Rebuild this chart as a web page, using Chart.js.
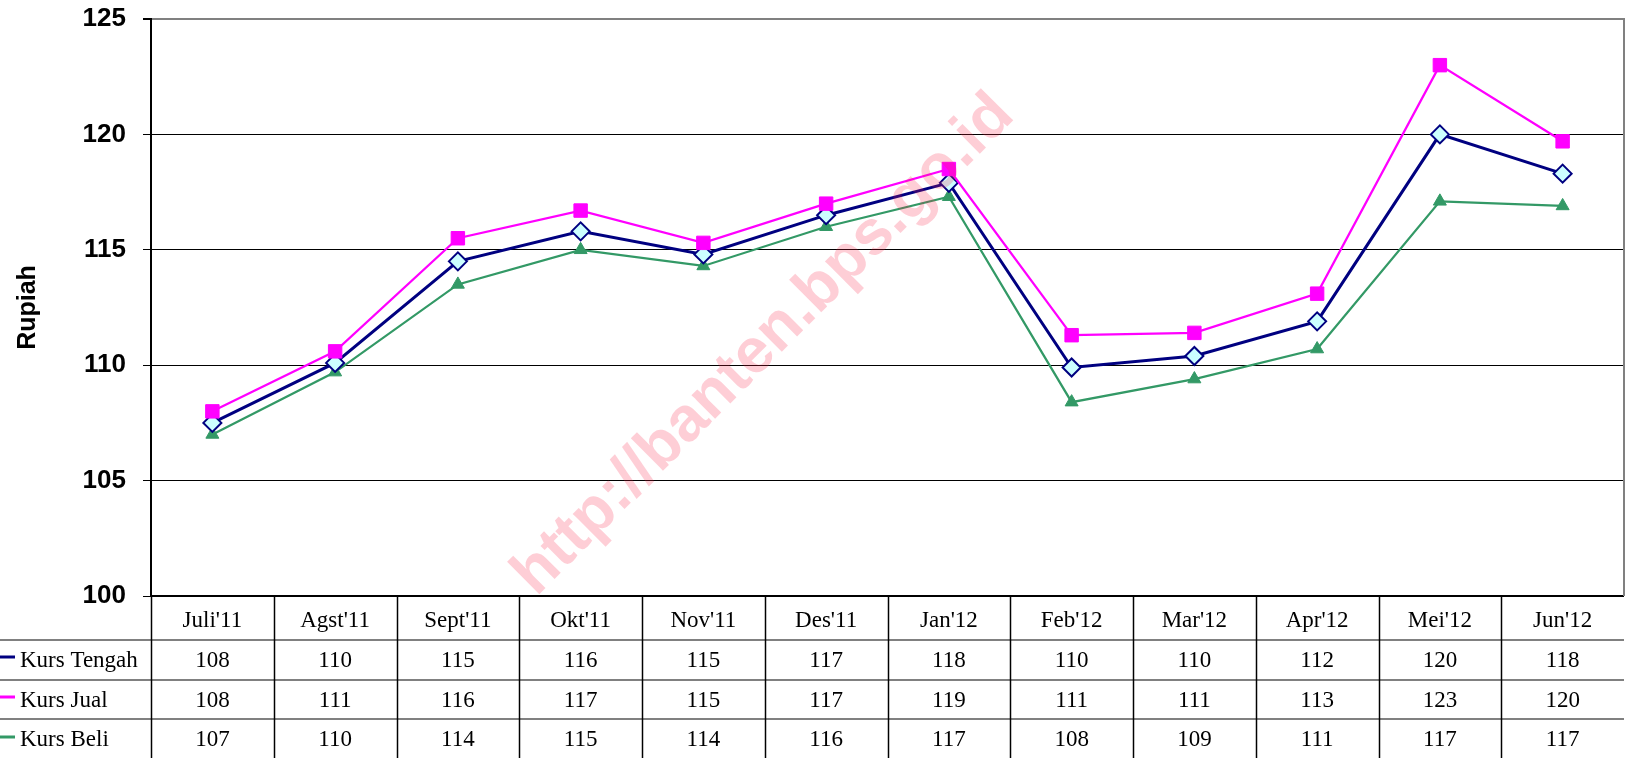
<!DOCTYPE html>
<html>
<head>
<meta charset="utf-8">
<script src="https://cdn.jsdelivr.net/npm/chart.js@4/dist/chart.umd.min.js"></script>
<style>
  html, body { margin: 0; padding: 0; background: #ffffff; }
  #wrap { width: 1635px; height: 758px; position: relative; }
</style>
</head>
<body>
<div id="wrap"><canvas id="c" width="1635" height="758"></canvas></div>
<script>
// ---- data ----
const categories = ["Juli'11", "Agst'11", "Sept'11", "Okt'11", "Nov'11", "Des'11", "Jan'12", "Feb'12", "Mar'12", "Apr'12", "Mei'12", "Jun'12"];
const kursTengah = [107.5, 110.1, 114.5, 115.8, 114.8, 116.5, 117.9, 109.9, 110.4, 111.9, 120.0, 118.3];
const kursJual   = [108.0, 110.6, 115.5, 116.7, 115.3, 117.0, 118.5, 111.3, 111.4, 113.1, 123.0, 119.7];
const kursBeli   = [107.0, 109.7, 113.5, 115.0, 114.3, 116.0, 117.3, 108.4, 109.4, 110.7, 117.1, 116.9];
const tableTengah = ["108", "110", "115", "116", "115", "117", "118", "110", "110", "112", "120", "118"];
const tableJual   = ["108", "111", "116", "117", "115", "117", "119", "111", "111", "113", "123", "120"];
const tableBeli   = ["107", "110", "114", "115", "114", "116", "117", "108", "109", "111", "117", "117"];
const seriesNames = ["Kurs Tengah", "Kurs Jual", "Kurs Beli"];
const yTicks = [100, 105, 110, 115, 120, 125];
const watermarkText = "http://banten.bps.go.id";

const COL_TENGAH = '#000080';
const COL_JUAL = '#ff00ff';
const COL_BELI = '#339966';

const tablePlugin = {
  id: 'dataTable',
  afterDraw(chart) {
    const ctx = chart.ctx;
    const xs = chart.scales.x;
    const area = chart.chartArea;
    const n = categories.length;
    const w = xs.getPixelForValue(1) - xs.getPixelForValue(0);
    const top = area.bottom;
    const rows = [top, 640, 680, 719, 758];
    ctx.save();
    // horizontal row separators (gray)
    ctx.strokeStyle = '#808080';
    ctx.lineWidth = 2;
    for (let r = 1; r <= 3; r++) {
      ctx.beginPath();
      ctx.moveTo(0, rows[r]);
      ctx.lineTo(area.right, rows[r]);
      ctx.stroke();
    }
    // vertical separators (black)
    ctx.strokeStyle = '#000000';
    ctx.lineWidth = 1.5;
    for (let i = 0; i < n; i++) {
      const bx = Math.round(xs.getPixelForValue(i) - w / 2) + 0.5;
      ctx.beginPath();
      ctx.moveTo(bx, top);
      ctx.lineTo(bx, 758);
      ctx.stroke();
    }
    // top line (plot bottom)
    ctx.lineWidth = 2;
    ctx.beginPath();
    ctx.moveTo(area.left, top);
    ctx.lineTo(area.right, top);
    ctx.stroke();

    // texts
    ctx.fillStyle = '#000';
    ctx.font = '23px "Liberation Serif", "Times New Roman", serif';
    ctx.textAlign = 'center';
    ctx.textBaseline = 'alphabetic';
    const baselines = [626.5, 667, 706.5, 746];
    const tables = [tableTengah, tableJual, tableBeli];
    for (let i = 0; i < n; i++) {
      const cx = xs.getPixelForValue(i);
      ctx.fillText(categories[i], cx, baselines[0]);
      for (let r = 0; r < 3; r++) {
        ctx.fillText(tables[r][i], cx, baselines[r + 1]);
      }
    }
    // legend keys
    const cols = [COL_TENGAH, COL_JUAL, COL_BELI];
    const keyY = [657, 697, 737];
    ctx.textAlign = 'left';
    for (let r = 0; r < 3; r++) {
      ctx.strokeStyle = cols[r];
      ctx.lineWidth = 3;
      ctx.beginPath();
      ctx.moveTo(0, keyY[r]);
      ctx.lineTo(15, keyY[r]);
      ctx.stroke();
      ctx.fillStyle = '#000';
      ctx.fillText(seriesNames[r], 20, baselines[r + 1]);
    }
    // right border of plot area (gray)
    ctx.strokeStyle = '#808080';
    ctx.lineWidth = 2;
    ctx.beginPath();
    ctx.moveTo(area.right, area.top - 1);
    ctx.lineTo(area.right, area.bottom);
    ctx.stroke();

    // watermark
    ctx.translate(764, 345);
    ctx.rotate(-Math.PI / 4);
    ctx.font = 'bold 63px "Liberation Sans", Arial, sans-serif';
    ctx.textAlign = 'center';
    ctx.textBaseline = 'middle';
    ctx.fillStyle = 'rgba(250, 30, 70, 0.22)';
    ctx.fillText(watermarkText, 0, 0);
    ctx.restore();
  }
};

new Chart(document.getElementById('c'), {
  type: 'line',
  data: {
    labels: categories,
    datasets: [
      {
        label: seriesNames[0],
        data: kursTengah,
        borderColor: COL_TENGAH,
        borderWidth: 3,
        pointStyle: 'rectRot',
        pointRadius: 9,
        pointBackgroundColor: '#ccffff',
        pointBorderColor: COL_TENGAH,
        pointBorderWidth: 2,
        tension: 0,
        order: 2
      },
      {
        label: seriesNames[1],
        data: kursJual,
        borderColor: COL_JUAL,
        borderWidth: 2.25,
        pointStyle: 'rect',
        pointRadius: 9.5,
        pointBackgroundColor: COL_JUAL,
        pointBorderColor: COL_JUAL,
        pointBorderWidth: 1,
        tension: 0,
        order: 1
      },
      {
        label: seriesNames[2],
        data: kursBeli,
        borderColor: COL_BELI,
        borderWidth: 2.25,
        pointStyle: 'triangle',
        pointRadius: 7.5,
        pointBackgroundColor: COL_BELI,
        pointBorderColor: COL_BELI,
        pointBorderWidth: 1,
        tension: 0,
        order: 3
      }
    ]
  },
  options: {
    responsive: false,
    animation: false,
    devicePixelRatio: 1,
    layout: { padding: { top: 19, right: 1, bottom: 162, left: 0 } },
    plugins: {
      legend: { display: false },
      tooltip: { enabled: false },
      title: { display: false }
    },
    scales: {
      x: {
        type: 'category',
        offset: true,
        display: false
      },
      y: {
        min: 100,
        max: 125,
        afterBuildTicks(scale) {
          scale.ticks = yTicks.map(v => ({ value: v }));
        },
        afterFit(scale) {
          scale.width = 151;
          scale.paddingTop = 15;
          scale.paddingBottom = 15;
        },
        ticks: {
          stepSize: 5,
          color: '#000',
          padding: 17,
          font: { family: '"Liberation Sans", Arial, sans-serif', size: 26, weight: 'bold' }
        },
        grid: {
          color: (c) => (c.tick && c.tick.value === 125) ? '#808080' : '#000000',
          lineWidth: (c) => (c.tick && c.tick.value === 125) ? 2 : 1,
          tickColor: '#000000',
          tickLength: 8
        },
        border: { display: true, color: '#000000', width: 2 },
        title: {
          display: true,
          text: 'Rupiah',
          color: '#000',
          padding: { top: 13, bottom: 0 },
          font: { family: '"Liberation Sans", Arial, sans-serif', size: 25, weight: 'bold' }
        }
      }
    }
  },
  plugins: [tablePlugin]
});
</script>
</body>
</html>
